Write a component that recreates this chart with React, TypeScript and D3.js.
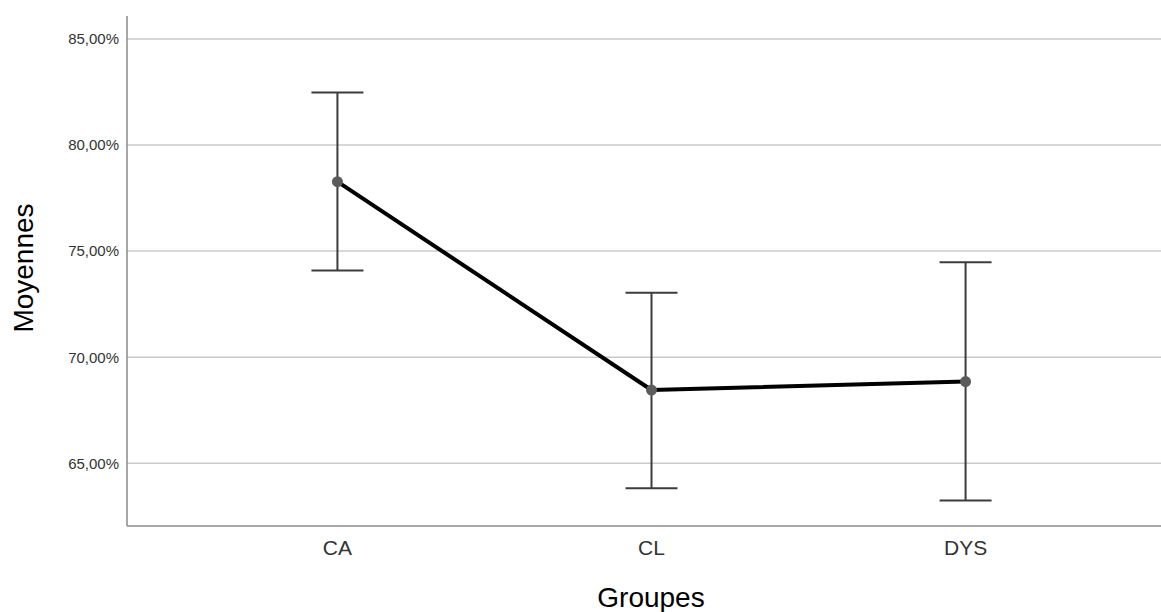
import React from "react";
import * as d3 from "d3";

const categories = ["CA", "CL", "DYS"];
const means = [78.27, 68.45, 68.85];
const upper = [82.47, 73.04, 74.47];
const lower = [74.08, 63.82, 63.24];
const yTicks = [65, 70, 75, 80, 85];
const yLabel = "Moyennes";
const xLabel = "Groupes";

const W = 1161;
const H = 612;
const FONT = "'Liberation Sans', Arial, sans-serif";

export default function App() {
  const left = 127;
  const top = 16;
  const bottom = 526;
  const x = d3.scalePoint<string>().domain(categories).range([left, 1176]).padding(0.67);
  const y = d3.scaleLinear().domain([62.04, 86.08]).range([bottom, top]);
  const pts = categories.map((c, i) => [x(c) as number, y(means[i])] as [number, number]);
  const line = d3.line()(pts) || "";
  const fmt = (v: number) => `${v.toFixed(2).replace(".", ",")}%`;
  const capW = 26;

  return (
    <div style={{ position: "fixed", left: 0, top: 0 }}>
      <svg width={W} height={H} style={{ display: "block", background: "#fff" }}>
        {yTicks.map((t) => (
          <g key={t}>
            <line x1={left} x2={W} y1={y(t)} y2={y(t)} stroke="#cacaca" strokeWidth={1.5} />
            <text x={left - 8} y={y(t)} dy="0.36em" textAnchor="end" fontFamily={FONT} fontSize={15} fill="#333">
              {fmt(t)}
            </text>
          </g>
        ))}
        <line x1={left} x2={left} y1={top} y2={bottom} stroke="#8a8a8a" strokeWidth={1.5} />
        <line x1={left} x2={W} y1={bottom} y2={bottom} stroke="#8a8a8a" strokeWidth={1.5} />
        {categories.map((c) => (
          <text key={c} x={x(c) as number} y={555} textAnchor="middle" fontFamily={FONT} fontSize={21} fill="#333">
            {c}
          </text>
        ))}
        {categories.map((c, i) => {
          const cx = x(c) as number;
          return (
            <g key={c} stroke="#3c3c3c" strokeWidth={2}>
              <line x1={cx} x2={cx} y1={y(upper[i])} y2={y(lower[i])} />
              <line x1={cx - capW} x2={cx + capW} y1={y(upper[i])} y2={y(upper[i])} />
              <line x1={cx - capW} x2={cx + capW} y1={y(lower[i])} y2={y(lower[i])} />
            </g>
          );
        })}
        <path d={line} fill="none" stroke="#000" strokeWidth={4} strokeLinejoin="round" />
        {pts.map((p, i) => (
          <circle key={i} cx={p[0]} cy={p[1]} r={5.5} fill="#5c5c5c" />
        ))}
        <text x={651} y={607} textAnchor="middle" fontFamily={FONT} fontSize={28} fill="#000">
          {xLabel}
        </text>
        <text
          transform={`translate(33,${(top + bottom) / 2 - 3}) rotate(-90)`}
          textAnchor="middle"
          fontFamily={FONT}
          fontSize={28}
          fill="#000"
        >
          {yLabel}
        </text>
      </svg>
    </div>
  );
}
